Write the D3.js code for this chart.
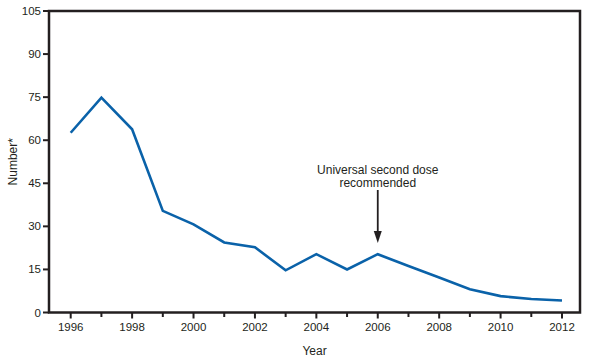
<!DOCTYPE html>
<html>
<head>
<meta charset="utf-8">
<script src="https://cdn.jsdelivr.net/npm/d3@7"></script>
<style>
  body { margin: 0; background: #fff; }
  text { font-family: "Liberation Sans", Arial, sans-serif; fill: #231f20; }
</style>
</head>
<body>
<div id="chart"></div>
<script>
// data
var years = [1996, 1997, 1998, 1999, 2000, 2001, 2002, 2003, 2004, 2005, 2006, 2007, 2008, 2009, 2010, 2011, 2012];
var counts = [62.6, 74.8, 63.8, 35.4, 30.7, 24.4, 22.7, 14.7, 20.3, 15.0, 20.3, 16.2, 12.2, 8.1, 5.7, 4.7, 4.2];
var yTicks = [0, 15, 30, 45, 60, 75, 90, 105];
var xLabels = [1996, 1998, 2000, 2002, 2004, 2006, 2008, 2010, 2012];

var W = 593, H = 361;
var plotL = 49, plotR = 580, plotT = 11, plotB = 312.5;

var svg = d3.select("#chart").append("svg")
  .attr("width", W).attr("height", H);

var x = d3.scaleLinear().domain([1996, 2012]).range([70.7, 562]);
var y = d3.scaleLinear().domain([0, 105]).range([plotB, plotT]);

// frame
svg.append("rect")
  .attr("x", plotL).attr("y", plotT)
  .attr("width", plotR - plotL).attr("height", plotB - plotT)
  .attr("fill", "none").attr("stroke", "#231f20").attr("stroke-width", 2.5);

// y axis ticks + labels
var yg = svg.append("g");
yg.selectAll("line").data(yTicks).enter().append("line")
  .attr("x1", plotL - 6).attr("x2", plotL)
  .attr("y1", d => y(d)).attr("y2", d => y(d))
  .attr("stroke", "#231f20").attr("stroke-width", 2);
yg.selectAll("text").data(yTicks).enter().append("text")
  .attr("x", plotL - 8).attr("y", d => y(d) + 4)
  .attr("text-anchor", "end")
  .style("font-size", "11.5px")
  .text(d => d);

// x axis ticks: every year, labelled every other year
var xg = svg.append("g");
xg.selectAll("line").data(years).enter().append("line")
  .attr("x1", d => x(d)).attr("x2", d => x(d))
  .attr("y1", plotB).attr("y2", d => plotB + (d % 2 == 0 ? 6 : 4.5))
  .attr("stroke", "#231f20").attr("stroke-width", 2);
xg.selectAll("text").data(xLabels).enter().append("text")
  .attr("x", d => x(d)).attr("y", plotB + 18)
  .attr("text-anchor", "middle")
  .style("font-size", "11.5px")
  .text(d => d);

// axis titles
svg.append("text")
  .attr("x", (plotL + plotR) / 2).attr("y", 355)
  .attr("text-anchor", "middle")
  .style("font-size", "12px")
  .text("Year");
svg.append("text")
  .attr("transform", "translate(17," + ((plotT + plotB) / 2) + ") rotate(-90)")
  .attr("text-anchor", "middle")
  .style("font-size", "12px")
  .text("Number*");

// the line
var line = d3.line()
  .x((d, i) => x(years[i]))
  .y(d => y(d));
svg.append("path")
  .datum(counts)
  .attr("d", line)
  .attr("fill", "none")
  .attr("stroke", "#0a62a9")
  .attr("stroke-width", 2.6)
  .attr("stroke-linejoin", "miter");

// annotation
var ax = x(2006);
svg.append("text")
  .attr("x", ax).attr("y", 174)
  .attr("text-anchor", "middle")
  .style("font-size", "12px")
  .text("Universal second dose");
svg.append("text")
  .attr("x", ax).attr("y", 187)
  .attr("text-anchor", "middle")
  .style("font-size", "12px")
  .text("recommended");
svg.append("line")
  .attr("x1", ax).attr("x2", ax)
  .attr("y1", 190).attr("y2", 234)
  .attr("stroke", "#231f20").attr("stroke-width", 1.8);
svg.append("path")
  .attr("d", "M" + (ax - 4) + ",231 L" + (ax + 4) + ",231 L" + ax + ",243 Z")
  .attr("fill", "#231f20");
</script>
</body>
</html>
